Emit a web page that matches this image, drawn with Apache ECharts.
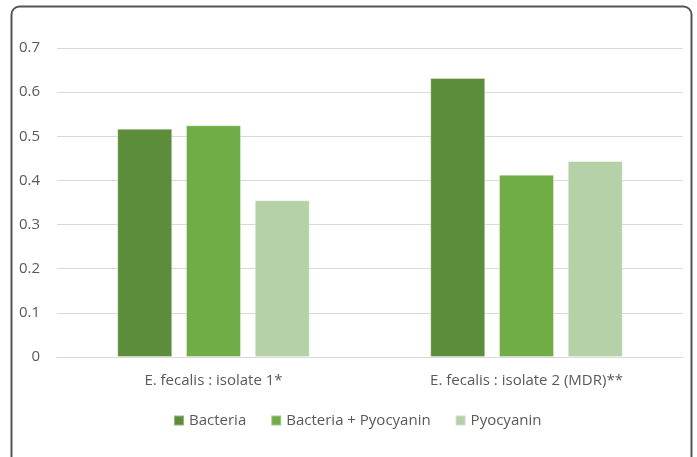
<!DOCTYPE html>
<html>
<head>
<meta charset="utf-8">
<script src="https://cdn.jsdelivr.net/npm/echarts@6/dist/echarts.min.js"></script>
<style>
html,body{margin:0;padding:0;background:#fff;}
#main{width:697px;height:457px;}
</style>
</head>
<body>
<div id="main"></div>
<script>
var categories = ['E. fecalis : isolate 1*', 'E. fecalis : isolate 2 (MDR)**'];
var seriesNames = ['Bacteria', 'Bacteria + Pyocyanin', 'Pyocyanin'];
var bacteria = [0.517, 0.632];
var bacteriaPyocyanin = [0.525, 0.413];
var pyocyanin = [0.355, 0.444];
var colors = ['#5B8D3B', '#70AD47', '#B5D1A8'];

var FONT = '"Open Sans", sans-serif';
var chart = echarts.init(document.getElementById('main'));
var dataSets = [bacteria, bacteriaPyocyanin, pyocyanin];
chart.setOption({
  animation: false,
  color: colors,
  graphic: [{
    type: 'rect',
    shape: { x: 11.5, y: 6.5, width: 680, height: 480, r: 8 },
    style: { fill: 'none', stroke: '#555555', lineWidth: 2 },
    z: 100
  }],
  grid: { left: 57, right: 14, top: 48, bottom: 100 },
  legend: {
    data: seriesNames,
    left: 173,
    top: 413,
    padding: 0,
    itemWidth: 10,
    itemHeight: 10,
    itemGap: 24,
    icon: 'rect',
    textStyle: { color: '#595959', fontSize: 15, fontFamily: FONT }
  },
  xAxis: {
    type: 'category',
    data: categories,
    axisLine: { lineStyle: { color: '#D9D9D9', width: 1 } },
    axisTick: { show: false },
    axisLabel: { color: '#595959', fontSize: 15, fontFamily: FONT, margin: 16 }
  },
  yAxis: {
    type: 'value',
    min: 0,
    max: 0.7,
    interval: 0.1,
    axisLine: { show: false },
    axisTick: { show: false },
    splitLine: { lineStyle: { color: '#D9D9D9', width: 1 } },
    axisLabel: {
      color: '#595959', fontSize: 15, fontFamily: FONT, margin: 17,
      formatter: function (v) { return v === 0 ? '0' : v.toFixed(1); }
    }
  },
  series: seriesNames.map(function (n, i) {
    return {
      name: n,
      type: 'bar',
      data: dataSets[i],
      barWidth: 55,
      barGap: '25%',
      itemStyle: { borderColor: 'rgba(255,255,255,0.35)', borderWidth: 1 }
    };
  })
});
</script>
</body>
</html>
